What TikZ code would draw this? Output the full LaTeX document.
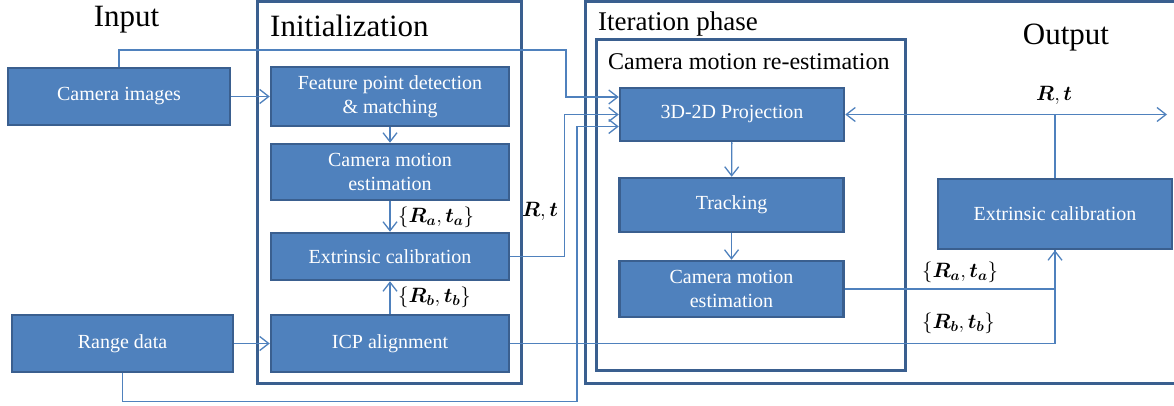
\documentclass[tikz,border=0pt]{standalone}
\usepackage{fontspec}
\setmainfont{Liberation Serif}
\usepackage{amsmath}
\definecolor{boxfill}{HTML}{4F81BD}
\definecolor{boxline}{HTML}{3A5F8F}
\usetikzlibrary{arrows.meta,calc}
\tikzset{>={Straight Barb[length=9pt,width=14pt]}}
\tikzset{
  block/.style = {draw=boxline, line width=2.5pt, fill=boxfill, text=white,
    inner sep=0pt, align=center, font=\fontsize{20}{24}\selectfont},
  frame/.style = {draw=boxline, line width=3pt},
  link/.style = {draw=boxfill, line width=1.3pt},
  title/.style = {anchor=base, inner sep=0pt},
  lbl/.style = {inner sep=0pt, font=\fontsize{21}{21}\selectfont}
}

\begin{document}
\begin{tikzpicture}[x=1pt,y=-1pt]
  \useasboundingbox (0,0) rectangle (1174,406);
  % frames
  \draw[frame] (257,1.5) rectangle (521,383);
  \draw[frame] (585,1.5) rectangle (1190,383);
  \draw[frame] (596,40) rectangle (905,370);
  % titles
  \node[title, font=\fontsize{31}{31}\selectfont] (input) at (126.5,27) {Input};
  \node[title, anchor=base west, font=\fontsize{31}{31}\selectfont] (init) at (270,37) {Initialization};
  \node[title, anchor=base west, font=\fontsize{27}{27}\selectfont] (iter) at (598,31) {Iteration phase};
  \node[title, anchor=base west, font=\fontsize{24}{24}\selectfont] (reest) at (608,70) {Camera motion re-estimation};
  \node[title, font=\fontsize{31}{31}\selectfont] (output) at (1066,45) {Output};
  % input blocks
  \node[block, minimum width=222pt, minimum height=57pt] (cam) at (119,96.5) {Camera images};
  \node[block, minimum width=221pt, minimum height=57pt] (range) at (122.5,343.5) {Range data};
  % initialization
  \node[block, minimum width=238pt, minimum height=59pt] (feat) at (390,96.5) {Feature point detection\\\& matching};
  \node[block, minimum width=238pt, minimum height=56pt] (cme) at (390,172) {Camera motion\\estimation};
  \node[block, minimum width=238pt, minimum height=47pt] (ext) at (390,256.5) {Extrinsic calibration};
  \node[block, minimum width=238pt, minimum height=57pt] (icp) at (390,343.5) {ICP alignment};
  % iteration phase
  \node[block, minimum width=224pt, minimum height=53pt] (proj) at (732,114.5) {3D-2D Projection};
  \node[block, minimum width=224pt, minimum height=54pt] (track) at (731.5,205) {Tracking};
  \node[block, minimum width=224pt, minimum height=56pt] (cmi) at (731.5,289) {Camera motion\\estimation};
  \node[block, minimum width=234pt, minimum height=70pt] (exto) at (1055,214) {Extrinsic calibration};
  \coordinate (out) at (1167,114.5);
  % connectors
  \draw[link,->] (cam) -- (feat);
  \draw[link,->] (range) -- (icp);
  \draw[link,->] (feat) -- (cme);
  \draw[link,->] (cme) -- (ext);
  \draw[link,->] (icp) -- (ext);
  \draw[link,->] (cam.north) |- (566,50) |- ($(proj.west)+(0,-17.5)$);
  \draw[link,->] (ext.east) -- (564.5,256.5) |- (proj.west);
  \draw[link,->] (range.south) |- (577,401.5) |- ($(proj.west)+(0,12)$);
  \draw[link,->] (proj) -- (track);
  \draw[link,->] (track) -- (cmi);
  \draw[link] (cmi.east) -| (exto.south);
  \draw[link,->] (icp.east) -| (exto.south);
  \draw[link,->] (exto.north) |- (proj.east);
  \draw[link,->] (exto.north) |- (out);
  % labels
  \node[lbl, anchor=west] (ra) at (398,217) {$\{\boldsymbol{R_a},\boldsymbol{t_a}\}$};
  \node[lbl, anchor=west] (rb) at (398,297) {$\{\boldsymbol{R_b},\boldsymbol{t_b}\}$};
  \node[lbl] (rt) at (540,211) {$\boldsymbol{R},\boldsymbol{t}$};
  \node[lbl] (rtout) at (1054,95) {$\boldsymbol{R},\boldsymbol{t}$};
  \node[lbl, anchor=west] (raout) at (922,272) {$\{\boldsymbol{R_a},\boldsymbol{t_a}\}$};
  \node[lbl, anchor=west] (rbout) at (922,323) {$\{\boldsymbol{R_b},\boldsymbol{t_b}\}$};
\end{tikzpicture}
\end{document}
